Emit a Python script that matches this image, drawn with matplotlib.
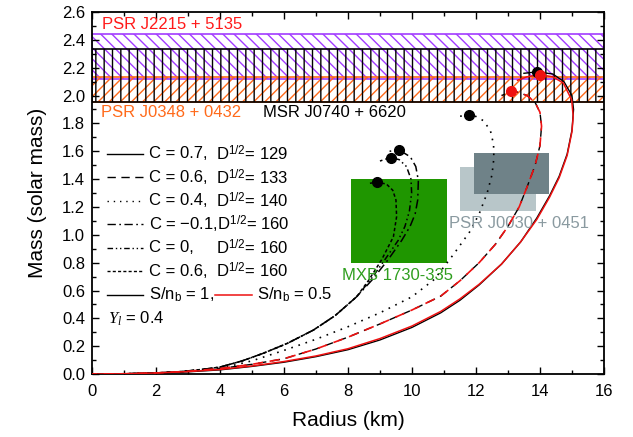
import matplotlib
matplotlib.use("Agg")
import matplotlib.pyplot as plt
from matplotlib.patches import Rectangle
from matplotlib.lines import Line2D
from matplotlib.ticker import MultipleLocator

plt.rcParams['font.family'] = ['Liberation Sans', 'DejaVu Sans']
plt.rcParams['font.size'] = 12
plt.rcParams['mathtext.fontset'] = 'custom'
plt.rcParams['mathtext.rm'] = 'Liberation Sans'
plt.rcParams['mathtext.it'] = 'Liberation Serif:italic'
plt.rcParams['hatch.linewidth'] = 1.0

# --- mass-radius curves (R in km, M in solar mass) ---
# C = 0.7, D^1/2 = 129, S/nb = 1 (black solid)
r_c07_s1 = [0, 1, 2, 3, 4, 5, 6, 7, 8, 9, 10, 10.9, 11.5, 12.1, 12.8, 13.4, 13.9, 14.3, 14.6,
            14.85, 15.0, 15.05, 15.0, 14.75, 14.4, 13.9, 13.5]
m_c07_s1 = [0, 0.002, 0.007, 0.016, 0.03, 0.055, 0.085, 0.125, 0.175, 0.245, 0.335, 0.44, 0.53, 0.64,
            0.79, 0.95, 1.12, 1.28, 1.42, 1.58, 1.75, 1.9, 2.0, 2.1, 2.155, 2.17, 2.16]
# C = 0.7, D^1/2 = 129, S/nb = 0.5 (red solid)
r_c07_s05 = [0, 1, 2, 3, 4, 5, 6, 7, 8, 9, 10, 10.9, 11.5, 12.1, 12.8, 13.4, 13.9, 14.3, 14.6,
             14.85, 15.0, 15.04, 14.99, 14.73, 14.4, 14.0, 13.6, 13.3]
m_c07_s05 = [0, 0.002, 0.008, 0.018, 0.033, 0.058, 0.09, 0.13, 0.182, 0.255, 0.345, 0.45, 0.54, 0.645,
             0.79, 0.95, 1.11, 1.27, 1.41, 1.57, 1.74, 1.85, 1.97, 2.09, 2.135, 2.15, 2.135, 2.11]
# C = 0.6, D^1/2 = 133 (dashed, both S/nb)
r_c06 = [0, 1, 2, 3, 4, 5, 6, 7, 8, 9, 10, 10.9, 11.5, 12.1, 12.6, 13.0, 13.35, 13.6, 13.85,
         14.0, 14.05, 14.0, 13.85, 13.6, 13.3, 13.1, 12.8]
m_c06 = [0, 0.002, 0.008, 0.02, 0.04, 0.07, 0.11, 0.18, 0.265, 0.36, 0.46, 0.56, 0.67, 0.8, 0.93,
         1.06, 1.2, 1.345, 1.5, 1.64, 1.78, 1.88, 1.95, 2.0, 2.025, 2.03, 2.0]
# C = 0.4, D^1/2 = 140 (dotted)
r_c04 = [0, 1, 2, 3, 4, 5, 6, 7, 8, 9, 10, 10.7, 11.3, 11.8, 12.1, 12.35, 12.5, 12.56, 12.55,
         12.45, 12.23, 12.0, 11.78, 11.45]
m_c04 = [0, 0.002, 0.008, 0.02, 0.04, 0.095, 0.17, 0.25, 0.34, 0.44, 0.555, 0.68, 0.86, 1.02, 1.15,
         1.3, 1.43, 1.55, 1.65, 1.75, 1.82, 1.85, 1.86, 1.85]
# C = -0.1, D^1/2 = 160 (dash-dot)
r_cm01 = [0, 1, 2, 2.75, 3.5, 4.0, 4.7, 5.35, 6.1, 6.92, 7.6, 8.27, 8.75, 9.25, 9.68, 9.94, 10.1,
          10.18, 10.2, 10.12, 9.95, 9.59, 9.3]
m_cm01 = [0, 0.002, 0.008, 0.017, 0.035, 0.05, 0.095, 0.149, 0.22, 0.316, 0.42, 0.555, 0.675, 0.82,
          0.96, 1.06, 1.15, 1.25, 1.39, 1.49, 1.56, 1.61, 1.6]
# C = 0, D^1/2 = 160 (dash-dot-dot)
r_c0 = [0, 1, 2, 2.75, 3.5, 4.0, 4.7, 5.35, 6.1, 6.92, 7.6, 8.27, 8.7, 9.15, 9.57, 9.78, 9.92,
        9.99, 9.97, 9.83, 9.6, 9.33, 9.0]
m_c0 = [0, 0.002, 0.008, 0.017, 0.035, 0.05, 0.095, 0.149, 0.22, 0.316, 0.42, 0.555, 0.675, 0.82,
        0.96, 1.06, 1.17, 1.3, 1.4, 1.49, 1.54, 1.555, 1.53]
# C = 0.6, D^1/2 = 160 (short dash)
r_c06_160 = [0, 1, 2, 2.75, 3.5, 4.0, 4.7, 5.35, 6.1, 6.92, 7.6, 8.27, 8.65, 9.05, 9.42, 9.52, 9.5,
             9.4, 9.2, 8.92, 8.67]
m_c06_160 = [0, 0.002, 0.008, 0.017, 0.035, 0.05, 0.095, 0.149, 0.22, 0.316, 0.42, 0.555, 0.675,
             0.82, 0.986, 1.13, 1.25, 1.32, 1.365, 1.377, 1.37]

# maximum-mass points
max_black_r = [13.9, 11.78, 9.59, 9.33, 8.92]
max_black_m = [2.17, 1.86, 1.61, 1.555, 1.377]
max_red_r = [14.0, 13.1]
max_red_m = [2.15, 2.03]

# observational constraints
j2215_m = (2.12, 2.44)
j0740_m = (1.955, 2.335)
j0348_m = (1.955, 2.135)
mxb_r, mxb_m = (8.1, 11.1), (0.8, 1.4)
j0030a_r, j0030a_m = (11.5, 13.87), (1.17, 1.49)
j0030b_r, j0030b_m = (11.94, 14.28), (1.29, 1.59)

purple = '#a23cff'
orange = '#ff6a1a'
red = '#ee1111'

fig = plt.figure(figsize=(6.33, 4.37), dpi=100)
ax = fig.add_axes([0.1453, 0.144, 0.8088, 0.8285])

# bands
ax.add_patch(Rectangle((0, j2215_m[0]), 16, j2215_m[1] - j2215_m[0], facecolor='none',
                       edgecolor=purple, hatch='\\\\\\', lw=1.2, zorder=1))
ax.add_patch(Rectangle((0, j0348_m[0]), 16, j0348_m[1] - j0348_m[0], facecolor='none',
                       edgecolor=orange, hatch='///', lw=1.2, zorder=1.1))
ax.add_patch(Rectangle((0, j0740_m[0]), 16, j0740_m[1] - j0740_m[0], facecolor='none',
                       edgecolor='black', hatch='||', lw=1.2, zorder=1.2))

# NICER / MXB boxes
ax.add_patch(Rectangle((mxb_r[0], mxb_m[0]), mxb_r[1] - mxb_r[0], mxb_m[1] - mxb_m[0],
                       facecolor='#1f9600', edgecolor='none', zorder=1))
ax.add_patch(Rectangle((j0030a_r[0], j0030a_m[0]), j0030a_r[1] - j0030a_r[0], j0030a_m[1] - j0030a_m[0],
                       facecolor='#b8c6c9', edgecolor='none', zorder=1))
ax.add_patch(Rectangle((j0030b_r[0], j0030b_m[0]), j0030b_r[1] - j0030b_r[0], j0030b_m[1] - j0030b_m[0],
                       facecolor='#6f8288', edgecolor='none', zorder=1.05))

# curves
ls_dash = (0, (6, 4))
ls_dot = (0, (1, 3.5))
ls_dashdot = (0, (6, 2.5, 1.2, 2.5))
ls_dashdotdot = (0, (4, 2, 1, 2, 1, 2))
ls_short = (0, (2.2, 1.6))

ax.plot(r_c07_s1, m_c07_s1, color='black', lw=1.0, zorder=3)
ax.plot(r_c07_s05, m_c07_s05, color=red, lw=1.1, zorder=3.1)
ax.plot(r_c06, m_c06, color='black', lw=1.0, ls=ls_dash, zorder=3)
ax.plot(r_c06, m_c06, color=red, lw=1.2, ls=(3, (6, 4)), zorder=3.1)
ax.plot(r_c04, m_c04, color='black', lw=1.2, ls=ls_dot, zorder=3)
ax.plot(r_cm01, m_cm01, color='black', lw=1.1, ls=ls_dashdot, zorder=3)
ax.plot(r_c0, m_c0, color='black', lw=1.1, ls=ls_dashdotdot, zorder=3)
ax.plot(r_c06_160, m_c06_160, color='black', lw=1.1, ls=ls_short, zorder=3)

ax.plot(max_black_r, max_black_m, 'o', color='black', ms=7, zorder=4)
ax.plot(max_red_r, max_red_m, 'o', color=red, ms=7, zorder=4.1)

# labels for constraints
ax.text(0.019, 0.966, 'PSR J2215 + 5135', color='#ff1a1a', transform=ax.transAxes, va='center')
ax.text(0.017, 0.723, 'PSR J0348 + 0432', color=orange, transform=ax.transAxes, va='center')
ax.text(0.3346, 0.723, 'MSR J0740 + 6620', color='black', transform=ax.transAxes, va='center')
ax.text(0.488, 0.2735, 'MXB 1730-335', color='#2e9e1e', transform=ax.transAxes, va='center')
ax.text(0.698, 0.416, 'PSR J0030 + 0451', color='#8a9aa0', transform=ax.transAxes, va='center')

# legend drawn by hand
leg_styles = ['-', ls_dash, ls_dot, ls_dashdot, ls_dashdotdot, ls_short]
leg_c = ['C = 0.7,', 'C = 0.6,', 'C = 0.4,', 'C = \u22120.1,', 'C = 0,', 'C = 0.6,']
leg_d = ['129', '133', '140', '160', '160', '160']
y0, dy = 0.608, 0.0648
for i, (ls, c, d) in enumerate(zip(leg_styles, leg_c, leg_d)):
    y = y0 - i * dy
    ax.add_line(Line2D([0.029, 0.0995], [y, y], transform=ax.transAxes, color='black',
                       lw=1.0, ls=ls))
    if i == 3:
        ax.text(0.111, y, c + r'D$^{1/2}$= ' + d, transform=ax.transAxes, va='center')
    else:
        ax.text(0.111, y, c, transform=ax.transAxes, va='center')
        ax.text(0.242, y, r'D$^{1/2}$= ' + d, transform=ax.transAxes, va='center')
y = y0 - 6 * dy
ax.add_line(Line2D([0.029, 0.0995], [y, y], transform=ax.transAxes, color='black', lw=1.0))
ax.text(0.111, y, r'S/n$_{\mathrm{b}}$ = 1,', transform=ax.transAxes, va='center')
ax.add_line(Line2D([0.240, 0.312], [y, y], transform=ax.transAxes, color=red, lw=1.1))
ax.text(0.322, y, r'S/n$_{\mathrm{b}}$ = 0.5', transform=ax.transAxes, va='center')
ax.text(0.031, 0.154, r'$\mathit{Y}_{\mathit{l}}$ = 0.4', transform=ax.transAxes, va='center')

ax.set_xlim(0, 16)
ax.set_ylim(0, 2.6)
ax.xaxis.set_major_locator(MultipleLocator(2))
ax.xaxis.set_minor_locator(MultipleLocator(1))
ax.yaxis.set_major_locator(MultipleLocator(0.2))
ax.yaxis.set_minor_locator(MultipleLocator(0.1))
ax.yaxis.set_major_formatter(plt.FormatStrFormatter('%.1f'))
ax.tick_params(which='both', direction='in', top=True, right=True, width=1.0, labelsize=12)
ax.tick_params(which='major', length=5)
ax.tick_params(which='minor', length=3)
ax.tick_params(axis='x', which='major', pad=7)
ax.tick_params(axis='y', which='major', pad=5)
for s in ax.spines.values():
    s.set_linewidth(1.3)

ax.set_xlabel('Radius (km)', fontsize=15, labelpad=9)
ax.set_ylabel('Mass (solar mass)', fontsize=15, labelpad=11)

fig.savefig('out.png', dpi=100)
